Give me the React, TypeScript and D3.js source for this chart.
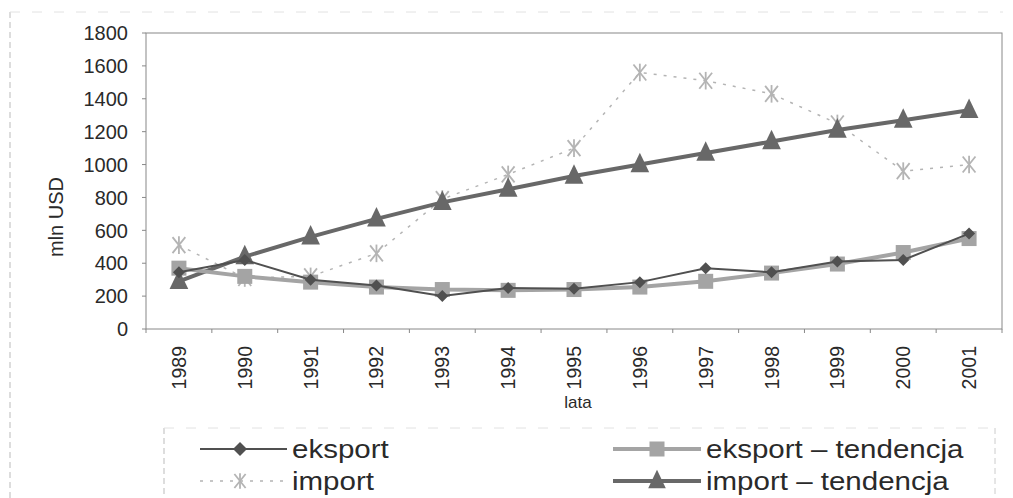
import React from "react";
import * as d3 from "d3";

const years = ["1989","1990","1991","1992","1993","1994","1995","1996","1997","1998","1999","2000","2001"];
const eksport = [345, 420, 300, 265, 200, 250, 245, 285, 370, 345, 410, 420, 580];
const eksportTrend = [370, 320, 285, 255, 240, 235, 240, 255, 290, 340, 395, 465, 550];
const importVals = [510, 310, 320, 460, 790, 940, 1100, 1560, 1510, 1430, 1250, 960, 1000];
const importTrend = [290, 440, 560, 670, 770, 850, 930, 1000, 1070, 1140, 1210, 1270, 1330];
const yTicks = [0, 200, 400, 600, 800, 1000, 1200, 1400, 1600, 1800];
const legendLabels = ["eksport", "import", "eksport – tendencja", "import – tendencja"];

const W = 1013, H = 498;
const left = 146, right = 1002, top = 33, bottom = 329;
const font = "Liberation Sans, Arial, sans-serif";

function Diamond({ x, y, r, fill }: any) {
  return <path d={`M${x},${y - r}L${x + r},${y}L${x},${y + r}L${x - r},${y}Z`} fill={fill} />;
}
function Square({ x, y, s, fill }: any) {
  return <rect x={x - s / 2} y={y - s / 2} width={s} height={s} fill={fill} />;
}
function Tri({ x, y, s, fill }: any) {
  return <path d={`M${x},${y - s * 0.7}L${x + s * 0.55},${y + s * 0.45}L${x - s * 0.55},${y + s * 0.45}Z`} fill={fill} />;
}
function Star({ x, y, r, stroke }: any) {
  return (
    <g stroke={stroke} strokeWidth={1.8}>
      <line x1={x - r * 0.8} y1={y - r} x2={x + r * 0.8} y2={y + r} />
      <line x1={x - r * 0.8} y1={y + r} x2={x + r * 0.8} y2={y - r} />
      <line x1={x} y1={y - r * 1.1} x2={x} y2={y + r * 1.1} />
    </g>
  );
}

export default function App() {
  const x = d3.scaleBand().domain(years).range([left, right]);
  const xc = (d: string) => (x(d) as number) + x.bandwidth() / 2;
  const y = d3.scaleLinear().domain([0, 1800]).range([bottom, top]);
  const line = (vals: number[]) =>
    d3.line<number>().x((_, i) => xc(years[i])).y((v) => y(v))(vals) as string;

  const cDark = "#505050";
  const cLight = "#a4a4a4";
  const cImp = "#b4b4b4";
  const cTrendDark = "#686868";
  const txt = "#2a2a2a";

  const legendFs = 25;
  const stretch = 1.18;
  const measure = (s: string) => {
    const w: Record<string, number> = { e: .556, k: .5, s: .5, p: .556, o: .556, r: .333, t: .278, " ": .278, "–": .556, n: .556, d: .556, c: .5, j: .222, a: .556, i: .222, m: .833 };
    return s.split("").reduce((acc, ch) => acc + (w[ch] ?? .556), 0) * legendFs * stretch;
  };

  return (
    <svg width={W} height={H} style={{ position: "absolute", left: 0, top: 0, background: "#fff" }}>
      {/* outer frame */}
      <line x1={10} y1={12} x2={10} y2={H} stroke="#bbb" strokeDasharray="6,4" />
      <line x1={10} y1={12} x2={W - 10} y2={12} stroke="#e2e2e2" strokeDasharray="10,12" />
      {/* plot area */}
      <rect x={left} y={top} width={right - left} height={bottom - top} fill="#fff" stroke="#888" strokeWidth={1} />
      {/* y ticks */}
      {yTicks.map((t) => (
        <g key={t}>
          <line x1={left - 4} x2={left} y1={y(t)} y2={y(t)} stroke="#888" />
          <text x={left - 18} y={y(t)} dy="0.36em" textAnchor="end" fontFamily={font} fontSize={20} fill={txt}>{t}</text>
        </g>
      ))}
      {/* x ticks */}
      {years.map((yr) => (
        <g key={yr}>
          <line x1={x(yr) as number} x2={x(yr) as number} y1={bottom} y2={bottom + 4} stroke="#888" />
          <text transform={`translate(${xc(yr) + 7},${bottom + 17}) rotate(-90)`} textAnchor="end" fontFamily={font} fontSize={19.5} fill={txt}>{yr}</text>
        </g>
      ))}
      <line x1={right} x2={right} y1={bottom} y2={bottom + 4} stroke="#888" />
      <text x={578} y={408} textAnchor="middle" fontFamily={font} fontSize={17} fill={txt}>lata</text>
      <text transform={`translate(63,217) rotate(-90)`} textAnchor="middle" fontFamily={font} fontSize={20} fill={txt}>mln USD</text>

      {/* import (dotted) */}
      <path d={line(importVals)} fill="none" stroke={cImp} strokeWidth={1.5} strokeDasharray="3,7" />
      {importVals.map((v, i) => <Star key={i} x={xc(years[i])} y={y(v)} r={8} stroke={cImp} />)}

      {/* import trend */}
      <path d={line(importTrend)} fill="none" stroke={cTrendDark} strokeWidth={4} />
      {importTrend.map((v, i) => <Tri key={i} x={xc(years[i])} y={y(v)} s={17} fill={cTrendDark} />)}

      {/* eksport trend */}
      <path d={line(eksportTrend)} fill="none" stroke={cLight} strokeWidth={4} />
      {eksportTrend.map((v, i) => <Square key={i} x={xc(years[i])} y={y(v)} s={15} fill={cLight} />)}

      {/* eksport */}
      <path d={line(eksport)} fill="none" stroke={cDark} strokeWidth={2} />
      {eksport.map((v, i) => <Diamond key={i} x={xc(years[i])} y={y(v)} r={6} fill={cDark} />)}

      {/* legend */}
      <line x1={164} y1={428} x2={164} y2={H} stroke="#bbb" strokeDasharray="6,4" />
      <line x1={164} y1={428} x2={995} y2={428} stroke="#e2e2e2" strokeDasharray="10,12" />
      <line x1={995} y1={428} x2={995} y2={H} stroke="#ccc" strokeDasharray="6,4" />
      <g>
        <line x1={200} x2={287} y1={449} y2={449} stroke={cDark} strokeWidth={2} />
        <Diamond x={240} y={449} r={7} fill={cDark} />
        <text x={292} y={449} dy="0.36em" fontFamily={font} fontSize={legendFs} fill={txt} textLength={measure(legendLabels[0])} lengthAdjust="spacingAndGlyphs">{legendLabels[0]}</text>

        <line x1={200} x2={287} y1={481} y2={481} stroke={cImp} strokeWidth={1.5} strokeDasharray="3,7" />
        <Star x={240} y={481} r={7} stroke={cImp} />
        <text x={292} y={481} dy="0.36em" fontFamily={font} fontSize={legendFs} fill={txt} textLength={measure(legendLabels[1])} lengthAdjust="spacingAndGlyphs">{legendLabels[1]}</text>

        <line x1={613} x2={701} y1={449} y2={449} stroke={cLight} strokeWidth={4} />
        <Square x={657} y={449} s={15} fill={cLight} />
        <text x={706} y={449} dy="0.36em" fontFamily={font} fontSize={legendFs} fill={txt} textLength={measure(legendLabels[2])} lengthAdjust="spacingAndGlyphs">{legendLabels[2]}</text>

        <line x1={613} x2={701} y1={481} y2={481} stroke={cTrendDark} strokeWidth={4} />
        <Tri x={657} y={481} s={16} fill={cTrendDark} />
        <text x={706} y={481} dy="0.36em" fontFamily={font} fontSize={legendFs} fill={txt} textLength={measure(legendLabels[3])} lengthAdjust="spacingAndGlyphs">{legendLabels[3]}</text>
      </g>
    </svg>
  );
}
